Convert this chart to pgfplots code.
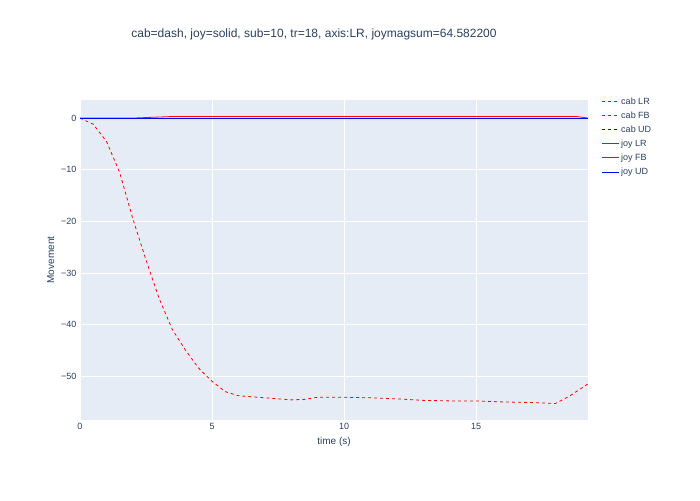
\documentclass[border=0pt]{standalone}
\usepackage{pgfplots}
\pgfplotsset{compat=1.18}
\usepackage{fontspec}
\setmainfont{Liberation Sans}
\definecolor{bg}{HTML}{E5ECF6}
\definecolor{txt}{HTML}{2A3F5F}
\begin{document}
\begin{tikzpicture}
\path[use as bounding box] (0,0) rectangle (700pt,500pt);
\begin{axis}[at={(80pt,80pt)},anchor=south west,
 width=508pt,height=320pt,scale only axis,
 xmin=0,xmax=19.24,ymin=-58.5,ymax=3.5,
 axis background/.style={fill=bg},axis line style={draw=none},
 grid=major,grid style={white,line width=0.8pt},
 tick style={draw=none},
 ticklabel style={font=\small,text=txt},
 /pgf/number format/assume math mode=true,
 xtick={0,5,10,15},ytick={-50,-40,-30,-20,-10,0},
 yticklabels={−50,−40,−30,−20,−10,0},
 xlabel={time (s)},ylabel={Movement},
 label style={text=txt},
 title={cab=dash, joy=solid, sub=10, tr=18, axis:LR, joymagsum=64.582200},
 title style={font=\large,text=txt,at={(0.5,1)},yshift=50pt,xshift=-20pt},
 legend style={at={(1.02,1.02)},anchor=north west,draw=none,fill=none,font=\small,text=txt,row sep=2pt},
 legend cell align=left,
]
\addplot[red,dashed,thick] coordinates {(0,0)(0.5,-1.2)(1,-4.5)(1.5,-10.5)(2,-19.5)(2.5,-27.5)(3,-35)(3.5,-41)(4,-45)(4.5,-48.5)(5,-51)(5.5,-53)(6,-53.8)(7,-54.2)(8,-54.6)(8.5,-54.5)(9,-54.1)(10,-54.1)(11,-54.2)(12,-54.4)(13,-54.7)(14,-54.8)(15,-54.8)(16,-55)(17,-55.1)(18,-55.3)(18.5,-54)(19.24,-51.5)};
\addlegendentry{cab LR}
\addplot[green!50!black,dashed,thick] coordinates {(0,0)(19.24,0)};
\addlegendentry{cab FB}
\addplot[blue,dashed,thick] coordinates {(0,0)(19.24,0)};
\addlegendentry{cab UD}
\addplot[red,thick] coordinates {(0,0)(2,0)(3,0.2)(3.5,0.3)(10,0.3)(18.8,0.3)(19.24,0)};
\addlegendentry{joy LR}
\addplot[green!50!black,thick] coordinates {(0,0)(19.24,0)};
\addlegendentry{joy FB}
\addplot[blue,thick] coordinates {(0,0)(19.24,0)};
\addlegendentry{joy UD}
\end{axis}
\end{tikzpicture}
\end{document}
